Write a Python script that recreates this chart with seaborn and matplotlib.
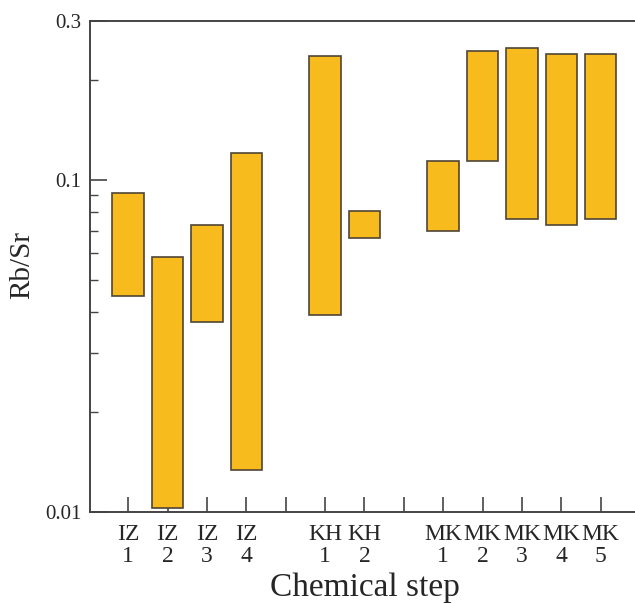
import matplotlib
matplotlib.use("Agg")
import matplotlib.pyplot as plt
import matplotlib.ticker as mticker
import seaborn as sns
import pandas as pd
import numpy as np

# ---- data ----
categories = ["IZ\n1", "IZ\n2", "IZ\n3", "IZ\n4", "KH\n1", "KH\n2",
              "MK\n1", "MK\n2", "MK\n3", "MK\n4", "MK\n5"]
low_vals = [0.0447, 0.0103, 0.0372, 0.0134, 0.0391, 0.0666,
            0.0700, 0.1134, 0.0763, 0.0732, 0.0763]
high_vals = [0.0912, 0.0585, 0.0729, 0.1200, 0.2354, 0.0805,
             0.1140, 0.2430, 0.2480, 0.2380, 0.2380]
axis_order = ["IZ\n1", "IZ\n2", "IZ\n3", "IZ\n4", "gap1", "KH\n1", "KH\n2",
              "gap2", "MK\n1", "MK\n2", "MK\n3", "MK\n4", "MK\n5"]
tick_labels = [c if not c.startswith("gap") else "" for c in axis_order]

df = pd.DataFrame({"step": categories, "low": low_vals, "high": high_vals})
df["span"] = df["high"] - df["low"]

sns.set_style("white")
plt.rcParams["font.family"] = ["Liberation Serif", "DejaVu Serif"]

W, H = 635, 603
fig = plt.figure(figsize=(W / 100, H / 100), dpi=100)
ax = fig.add_axes([90 / W, 1 - 512 / H, 550 / W, (512 - 21) / H])

sns.barplot(data=df, x="step", y="span", order=axis_order, bottom=df["low"].values,
            color="#F8BB1E", edgecolor="#4f4536", linewidth=1.2, width=0.8,
            saturation=1, ax=ax)

ax.set_yscale("log")
ax.set_ylim(0.01, 0.3)
ax.set_xlim(-0.97, 13)
ax.yaxis.set_major_locator(mticker.FixedLocator([0.01, 0.1, 0.3]))
ax.yaxis.set_major_formatter(mticker.FixedFormatter(["0.01", "0.1", "0.3"]))
ax.yaxis.set_minor_locator(mticker.FixedLocator([0.02, 0.03, 0.04, 0.05, 0.06, 0.07, 0.08, 0.09, 0.2]))
ax.yaxis.set_minor_formatter(mticker.NullFormatter())

ax.set_xticks(range(len(axis_order)))
ax.set_xticklabels(tick_labels, fontsize=17, linespacing=1.0)

ax.tick_params(axis="y", which="major", direction="in", length=12, width=1.2,
               color="#444444", labelsize=15, pad=6, left=True)
ax.tick_params(axis="y", which="minor", direction="in", length=6, width=1.0,
               color="#444444", left=True)
ax.tick_params(axis="x", which="major", direction="in", length=11, width=1.2,
               color="#444444", pad=9, bottom=True)

for s in ax.spines.values():
    s.set_color("#444444")
    s.set_linewidth(1.4)

ax.set_xlabel("Chemical step", fontsize=24, labelpad=4)
ax.set_ylabel("Rb/Sr", fontsize=21, va="center")
ax.yaxis.set_label_coords((22 - 90) / 550, (512 - 265) / 491)

fig.savefig("out.png", dpi=100)
